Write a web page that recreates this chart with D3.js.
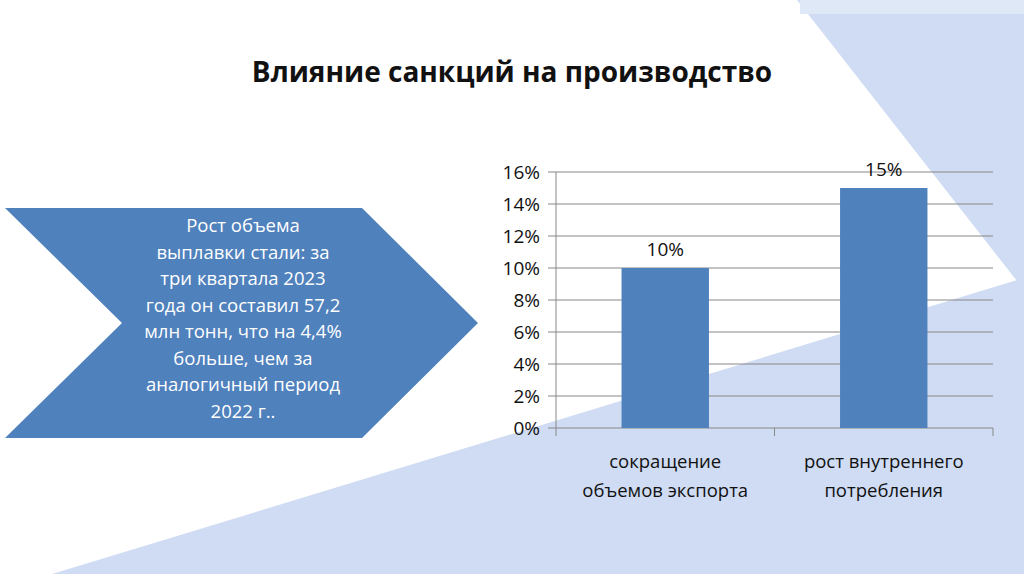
<!DOCTYPE html>
<html><head><meta charset="utf-8">
<script src="https://cdn.jsdelivr.net/npm/d3@7"></script>
<style>body{margin:0;background:#fff}svg{display:block;font-family:"Open Sans",sans-serif}</style>
</head><body>
<svg id="c" width="1024" height="574"></svg>
<script>
const categories = [["сокращение", "объемов экспорта"], ["рост внутреннего", "потребления"]];
const values = [0.10, 0.15];
const tickValues = [0, 0.02, 0.04, 0.06, 0.08, 0.10, 0.12, 0.14, 0.16];
const calloutLines = ["Рост объема", "выплавки стали: за", "три квартала 2023", "года он составил 57,2",
  "млн тонн, что на 4,4%", "больше, чем за", "аналогичный период", "2022 г.."];

const svg = d3.select("#c");
const bg = "#cfdcf3";
// background shapes
svg.append("polygon").attr("points", "797,0 1024,0 1024,290").attr("fill", bg);
svg.append("polygon").attr("points", "52,574 1024,278 1024,574").attr("fill", bg);
svg.append("rect").attr("x", 800).attr("y", 0).attr("width", 224).attr("height", 14).attr("fill", "#dfe8f7");

svg.append("text").attr("x", 512).attr("y", 82).attr("text-anchor", "middle")
  .attr("font-size", 28).attr("font-weight", "bold").attr("fill", "#111")
  .text("Влияние санкций на производство");

// callout chevron
svg.append("polygon").attr("points", "5,208 362,208 478,323 362,438 5,438 122,323").attr("fill", "#4f81bd");
svg.append("g").selectAll("text").data(calloutLines).join("text")
  .attr("x", 243).attr("y", (d, i) => 232 + i * 26.5).attr("text-anchor", "middle")
  .attr("font-size", 18.5).attr("fill", "#fff").text(d => d);

const x = d3.scaleBand().domain(d3.range(categories.length)).range([556, 993]).paddingInner(0).paddingOuter(0);
const y = d3.scaleLinear().domain([0, 0.16]).range([428, 172]);

const g = svg.append("g");
g.selectAll("line.grid").data(tickValues).join("line")
  .attr("x1", 548).attr("x2", 993).attr("y1", d => y(d)).attr("y2", d => y(d))
  .attr("stroke", "#888").attr("stroke-width", 1.2);
g.append("line").attr("x1", 556).attr("x2", 556).attr("y1", 172).attr("y2", 428).attr("stroke", "#888");
g.selectAll("text.yl").data(tickValues).join("text")
  .attr("x", 540).attr("y", d => y(d) + 7).attr("text-anchor", "end")
  .attr("font-size", 19).attr("fill", "#111").text(d => Math.round(d * 100) + "%");

const bw = x.bandwidth() * 0.4;
g.selectAll("rect").data(values).join("rect")
  .attr("x", (d, i) => x(i) + (x.bandwidth() - bw) / 2).attr("width", bw)
  .attr("y", d => y(d)).attr("height", d => y(0) - y(d)).attr("fill", "#4f81bd");
g.selectAll("text.v").data(values).join("text")
  .attr("x", (d, i) => x(i) + x.bandwidth() / 2).attr("y", d => y(d) - 12)
  .attr("text-anchor", "middle").attr("font-size", 19).attr("fill", "#111")
  .text(d => Math.round(d * 100) + "%");

// category ticks
g.selectAll("line.ct").data([0, 1, 2]).join("line")
  .attr("x1", i => i < 2 ? x(i) : x.range()[1]).attr("x2", i => i < 2 ? x(i) : x.range()[1])
  .attr("y1", 428).attr("y2", 436).attr("stroke", "#888");
categories.forEach((c, i) => {
  c.forEach((t, j) => {
    g.append("text").attr("x", x(i) + x.bandwidth() / 2).attr("y", 468 + j * 29)
      .attr("text-anchor", "middle").attr("font-size", 18.5).attr("fill", "#111").text(t);
  });
});
</script>
</body></html>
